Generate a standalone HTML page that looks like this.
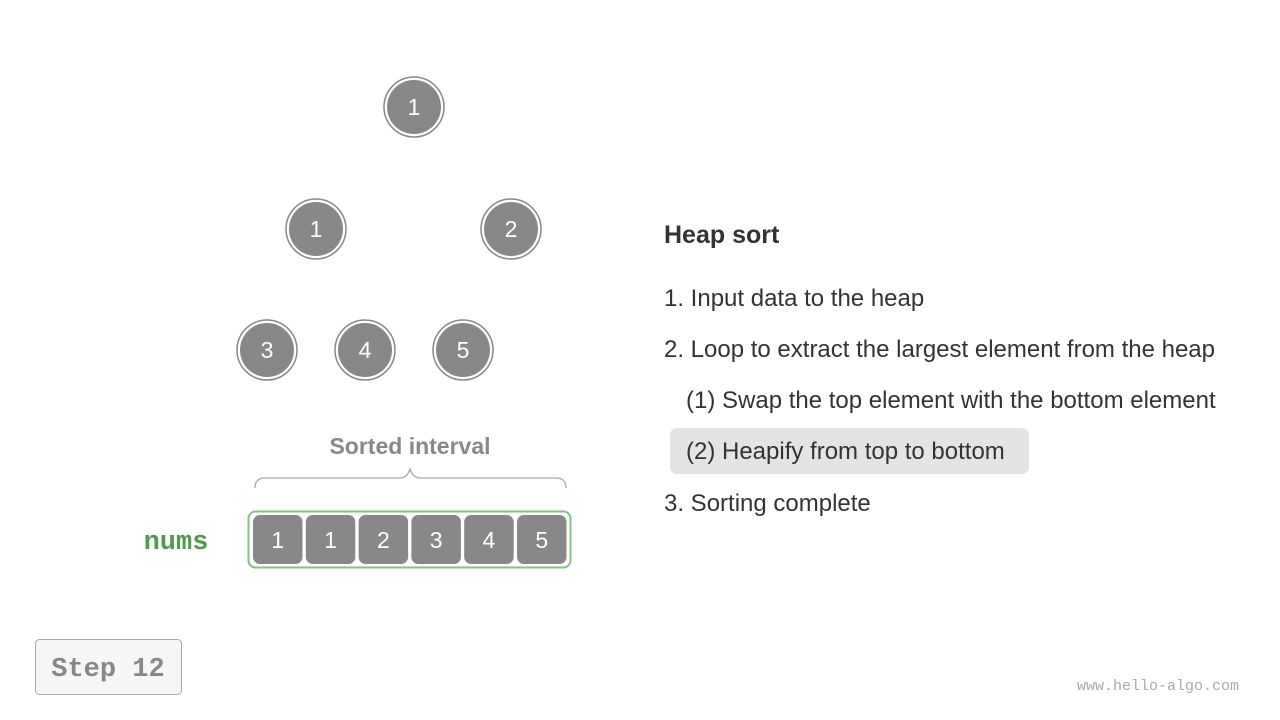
<!DOCTYPE html>
<html><head><meta charset="utf-8"><style>
body{margin:0;background:#fff;width:1280px;height:720px;overflow:hidden;font-family:"Liberation Sans",sans-serif}
svg{display:block}
</style></head><body>
<svg width="1280" height="720" viewBox="0 0 1280 720">
<g id="tree"></g>
<text x="410" y="454" text-anchor="middle" font-size="23" font-weight="bold" fill="#888">Sorted interval</text>
<path d="M255,488 Q255,478 265,478 L400,478 Q407,478 410,469 Q413,478 420,478 L556,478 Q566,478 566,488" fill="none" stroke="#aaa" stroke-width="1.3"/>
<text x="176" y="549" text-anchor="middle" font-family="Liberation Mono,monospace" font-size="27" font-weight="bold" fill="#4f9a4f">nums</text>
<rect x="248.5" y="511.5" width="322" height="56" rx="7" fill="#fff" stroke="#82c282" stroke-width="2"/>
<g id="arr"></g>
<text x="664" y="243" font-size="25" font-weight="bold" fill="#333">Heap sort</text>
<rect x="670" y="428" width="359" height="46" rx="7" fill="#e4e4e4"/>
<g font-size="24" fill="#333">
<text x="664" y="306">1. Input data to the heap</text>
<text x="664" y="357">2. Loop to extract the largest element from the heap</text>
<text x="686" y="408">(1) Swap the top element with the bottom element</text>
<text x="686" y="459">(2) Heapify from top to bottom</text>
<text x="664" y="511">3. Sorting complete</text>
</g>
<rect x="35.5" y="639.5" width="146" height="55" rx="4" fill="#f6f6f6" stroke="#aaa"/>
<text x="108" y="676" text-anchor="middle" font-family="Liberation Mono,monospace" font-size="27" font-weight="bold" fill="#888">Step 12</text>
<text x="1239" y="690" text-anchor="end" font-family="Liberation Mono,monospace" font-size="15" fill="#aaa">www.hello-algo.com</text>
</svg>
<script>
const nodeValues=[1,1,2,3,4,5];
const nodeX=[414,316,511,267,365,463];
const nodeY=[107,229,229,350,350,350];
const arrayValues=[1,1,2,3,4,5];
const NS="http://www.w3.org/2000/svg";
const tree=document.getElementById('tree');
nodeValues.forEach((v,i)=>{
 const g=document.createElementNS(NS,'g');
 
 
 g.innerHTML=`<circle cx="${nodeX[i]}" cy="${nodeY[i]}" r="30" fill="#fff" stroke="#888" stroke-width="1.5"/><circle cx="${nodeX[i]}" cy="${nodeY[i]}" r="27" fill="#888"/><text x="${nodeX[i]}" y="${nodeY[i]+8}" text-anchor="middle" font-size="23" fill="#fff">${v}</text>`;
 tree.appendChild(g);
});
const arr=document.getElementById('arr');
arrayValues.forEach((v,i)=>{
 const x=253+i*52.8;
 const g=document.createElementNS(NS,'g');
 
 
 g.innerHTML=`<rect x="${x}" y="515" width="49.5" height="49" rx="7" fill="#888"/><text x="${x+24.75}" y="548" text-anchor="middle" font-size="23" fill="#fff">${v}</text>`;
 arr.appendChild(g);
});
</script>
</body></html>
